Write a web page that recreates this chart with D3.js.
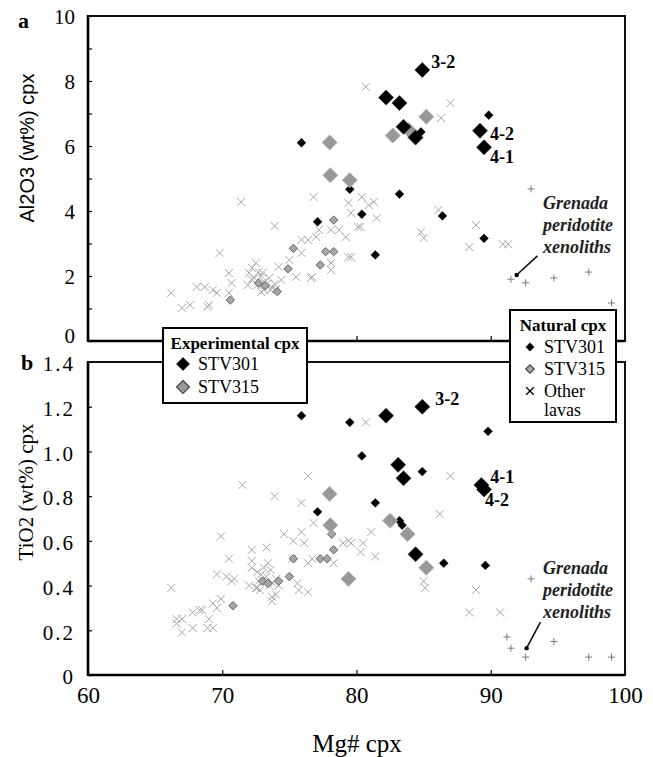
<!DOCTYPE html>
<html><head><meta charset="utf-8">
<script src="https://cdn.jsdelivr.net/npm/d3@7"></script>
<style>body{margin:0;background:#fff} svg{display:block}</style>
</head><body>
<svg id="chart" width="653" height="757"></svg>
<script>
// ---- tick values ----
const mgTicks = [60, 70, 80, 90, 100];
const al2o3Ticks = [0, 1, 2, 3, 4, 5, 6, 7, 8, 9, 10];
const tio2Ticks = [0, 0.2, 0.4, 0.6, 0.8, 1.0, 1.2, 1.4];

// ---- experimental cpx: [Mg#, oxide wt%, run label] ----
const expSTV301_Al = [[84.9,8.34,"3-2"],[82.2,7.49],[83.2,7.32],[83.5,6.59],[84.4,6.26],[89.2,6.47,"4-2"],[89.5,5.96,"4-1"]];
const expSTV315_Al = [[82.7,6.32],[83.9,6.49],[85.2,6.9],[78.0,6.11],[78.05,5.1],[79.5,4.95]];
const expSTV301_Ti = [[84.9,1.20,"3-2"],[82.2,1.16],[83.1,0.94],[83.5,0.88],[84.4,0.54],[89.3,0.85,"4-1"],[89.5,0.83,"4-2"]];
const expSTV315_Ti = [[82.5,0.69],[83.8,0.63],[85.2,0.48],[78.0,0.81],[78.05,0.67],[79.4,0.43]];

// ---- natural cpx ----
const natSTV301_Al = [[75.9,6.1],[89.85,6.95],[79.5,4.67],[83.2,4.52],[84.8,6.43],[77.1,3.67],[80.4,3.9],[86.4,3.85],[89.5,3.16],[81.4,2.65]];
const natSTV315_Al = [[78.3,3.72],[75.3,2.85],[77.7,2.75],[78.3,2.75],[74.9,2.22],[77.3,2.34],[70.6,1.26],[72.7,1.78],[73.2,1.7],[74.1,1.52]];
const natSTV301_Ti = [[75.9,1.16],[79.5,1.13],[80.4,0.98],[84.9,0.91],[89.8,1.09],[81.4,0.77],[77.1,0.73],[83.2,0.69],[83.4,0.67],[86.5,0.50],[89.6,0.49]];
const natSTV315_Ti = [[75.3,0.52],[77.3,0.52],[77.8,0.52],[78.3,0.56],[78.15,0.63],[75.0,0.44],[74.2,0.42],[70.8,0.31],[73.0,0.42],[73.4,0.41]];

// ---- other lavas ----
const otherLavas_Al = [[66.2,1.48],[67.0,1.02],[67.6,1.11],[68.1,1.66],[68.9,1.05],[69.3,1.57],[69.8,2.71],[70.7,1.78],[71.4,4.28],[72.2,2.25],[73.9,3.54],[76.8,4.43],[77.0,3.2],[76.6,1.94],
  [68.7,1.66],[69.0,1.11],[69.6,1.48],[70.5,2.09],[70.5,1.48],[72.0,2.09],[72.5,2.4],[73.1,1.82],[73.6,1.57],[74.2,2.28],[75.0,2.49],[75.5,1.97],[75.9,3.11],[76.4,3.11],[76.7,1.97],[77.2,3.42],[78.1,3.42],[78.7,3.42],[79.2,3.2],[79.4,4.25],[80.1,3.51],[78.1,2.18],[79.4,2.58],[75.9,2.71],[74.4,1.88],
  [80.7,7.82],[87.0,7.32],[86.3,6.86],[80.4,4.43],[81.3,4.28],[79.6,3.94],[80.9,4.18],[81.5,3.78],[80.3,3.51],[79.6,2.58],[78.1,2.4],[84.8,3.35],[85.0,3.17],[86.1,4.03],[88.9,3.57],[88.4,2.89],[90.9,2.98],[91.3,2.98],
  [72.4,1.94],[72.6,1.72],[72.9,2.0],[73.1,1.57],[73.3,1.75],[73.5,1.94],[72.7,2.12],[71.9,1.72],[73.9,1.75],[72.9,1.51],[72.2,1.9],[73.0,2.1],[73.7,1.65],[74.0,1.6]];
const otherLavas_Ti = [[66.2,0.39],[66.6,0.25],[67.0,0.19],[67.8,0.21],[68.3,0.29],[68.9,0.21],[69.3,0.32],[69.9,0.62],[70.3,0.44],[70.5,0.52],[70.7,0.42],[71.5,0.85],[72.2,0.51],[72.6,0.39],[73.3,0.57],[73.9,0.80],[73.7,0.35],[74.6,0.63],[75.2,0.52],[75.6,0.41],[75.9,0.77],[76.4,0.89],[76.4,0.37],[76.8,0.68],[76.1,0.59],
  [80.7,1.13],[87.0,0.89],[86.2,0.72],[79.0,0.59],[79.6,0.59],[80.5,0.59],[81.1,0.64],[81.4,0.53],[80.3,0.55],[78.3,0.50],[85.0,0.42],[85.1,0.39],[88.9,0.38],[88.4,0.28],[90.7,0.28],
  [69.6,0.45],[70.9,0.43],[72.2,0.56],[75.3,0.60],[75.9,0.64],[79.4,0.60],[75.7,0.38],[73.7,0.33],[72.7,0.42],[72.5,0.39],[72.0,0.40],[73.1,0.48],[72.2,0.48],[76.4,0.50],[76.7,0.52],[69.6,0.30],[69.9,0.34],[68.5,0.29],[67.8,0.28],[67.0,0.25],[66.6,0.23],[69.0,0.25],[69.3,0.21],
  [72.9,0.45],[73.1,0.42],[73.3,0.44],[73.5,0.40],[72.8,0.38],[73.6,0.47],[74.0,0.43],[74.2,0.40],[73.4,0.50],[72.6,0.46],[74.0,0.36],[73.8,0.41]];

// ---- Grenada peridotite xenoliths ----
const grenada_Al = [[93.0,4.68],[91.5,1.9],[92.6,1.79],[94.7,1.94],[97.3,2.12],[99.0,1.17]];
const grenada_Ti = [[93.0,0.43],[91.2,0.17],[91.5,0.12],[92.6,0.08],[94.7,0.15],[97.3,0.08],[99.0,0.08]];

// ---- layout ----
const svg = d3.select("#chart");
const serif = "'Liberation Serif','Times New Roman',serif";
const sans = "'Liberation Sans',Arial,sans-serif";
const x = d3.scaleLinear().domain([60, 100]).range([88, 625]);
const yA = d3.scaleLinear().domain([0, 10]).range([341, 16]);
const yB = d3.scaleLinear().domain([0, 1.4]).range([675, 362]);

const diamond = (r) => `M0,${-r}L${r},0L0,${r}L${-r},0Z`;
const times = (r) => `M${-r},${-r}L${r},${r}M${-r},${r}L${r},${-r}`;
const plus = (r) => `M${-r},0L${r},0M0,${-r}L0,${r}`;

const labelOffsets = {
  a: {"3-2": [9, -2], "4-2": [10, 9], "4-1": [6, 16]},
  b: {"3-2": [13, -2], "4-1": [9, -2], "4-2": [1, 17]}
};

function panel(key, y, sets, ticksY, fmtY, spacing, labelShift, arrow, noteAt) {
  const g = svg.append("g");
  const [x0, x1] = x.range();
  const [y0, y1] = y.range();

  // points
  const draw = (data, path, attrs) => {
    const sel = g.append("g").selectAll("path").data(data).join("path")
      .attr("transform", d => `translate(${x(d[0])},${y(d[1])})`)
      .attr("d", path);
    Object.entries(attrs).forEach(([k, v]) => sel.attr(k, v));
    return sel;
  };
  draw(sets.other, times(4), {fill: "none", stroke: "#a8a8a8", "stroke-width": 1});
  draw(sets.gren, plus(3.5), {fill: "none", stroke: "#7a7a7a", "stroke-width": 1});
  draw(sets.nat315, diamond(4.2), {fill: "#a6a6a6", stroke: "#666", "stroke-width": 1});
  draw(sets.nat301, diamond(4.4), {fill: "#000", stroke: "#000", "stroke-width": 0.5});
  draw(sets.exp315, diamond(7.5), {fill: "#989898", stroke: "#b3b3b3", "stroke-width": 1});
  draw(sets.exp301, diamond(7.5), {fill: "#000", stroke: "#222", "stroke-width": 0.6});

  // run labels
  g.append("g").selectAll("text").data(sets.exp301.filter(d => d[2])).join("text")
    .attr("x", d => x(d[0]) + labelOffsets[key][d[2]][0])
    .attr("y", d => y(d[1]) + labelOffsets[key][d[2]][1])
    .attr("font-family", serif).attr("font-weight", "bold").attr("font-size", 18)
    .text(d => d[2]);

  // xenolith note and pointer
  const note = g.append("text").attr("font-family", serif).attr("font-style", "italic")
    .attr("font-weight", "bold").attr("font-size", 18).attr("fill", "#222");
  ["Grenada", "peridotite", "xenoliths"].forEach((t, i) =>
    note.append("tspan").attr("x", x(noteAt[0])).attr("y", y(noteAt[1]) + i * 22).text(t));
  g.append("line")
    .attr("x1", x(arrow[0])).attr("y1", y(arrow[1]))
    .attr("x2", x(arrow[2])).attr("y2", y(arrow[3]))
    .attr("stroke", "#111").attr("stroke-width", 1.6);
  g.append("circle").attr("cx", x(arrow[2])).attr("cy", y(arrow[3])).attr("r", 2.2).attr("fill", "#000");

  // y axis
  const ay = g.append("g").attr("transform", `translate(${x0},0)`)
    .call(d3.axisLeft(y).tickValues(ticksY).tickFormat(fmtY).tickSizeInner(-4).tickSizeOuter(0).tickPadding(13));
  ay.select(".domain").remove();
  ay.selectAll("line").attr("stroke", "#000").attr("stroke-width", 1.2);
  ay.selectAll("text").attr("font-family", serif).attr("font-size", 21).attr("fill", "#000")
    .attr("letter-spacing", spacing)
    .attr("transform", d => `translate(0,${labelShift(d)})`);

  // x ticks (inward)
  const ax = g.append("g").attr("transform", `translate(0,${y0})`)
    .call(d3.axisBottom(x).tickValues(mgTicks).tickSizeInner(-5).tickSizeOuter(0).tickPadding(12)
      .tickFormat(key === "b" ? d3.format("d") : () => ""));
  ax.select(".domain").remove();
  ax.selectAll("line").attr("stroke", "#000").attr("stroke-width", 1.2);
  ax.selectAll("text").attr("font-family", serif).attr("font-size", 23).attr("fill", "#000");

  // frame
  g.append("rect").attr("x", x0).attr("y", y1).attr("width", x1 - x0).attr("height", y0 - y1)
    .attr("fill", "none").attr("stroke", "#111").attr("stroke-width", 2);
  g.append("line").attr("x1", x0).attr("x2", x0).attr("y1", y1 - 1).attr("y2", y0 + 1)
    .attr("stroke", "#000").attr("stroke-width", 2.6);
  g.append("line").attr("x1", x0).attr("x2", x1).attr("y1", y0).attr("y2", y0)
    .attr("stroke", "#000").attr("stroke-width", 2.4);

  return g;
}

panel("a", yA,
  {other: otherLavas_Al, gren: grenada_Al, nat315: natSTV315_Al, nat301: natSTV301_Al, exp315: expSTV315_Al, exp301: expSTV301_Al},
  al2o3Ticks, d => d % 2 === 0 ? String(d) : "", 0, d => d === 0 ? -5 : 1,
  [93.48, 2.62, 91.93, 2.03], [93.9, 4.06]);

panel("b", yB,
  {other: otherLavas_Ti, gren: grenada_Ti, nat315: natSTV315_Ti, nat301: natSTV301_Ti, exp315: expSTV315_Ti, exp301: expSTV301_Ti},
  tio2Ticks, d => d === 0 ? "0" : d3.format(".1f")(d), 2, d => 2,
  [93.7, 0.237, 92.67, 0.12], [93.9, 0.45]);

// panel letters
svg.append("text").attr("x", 18).attr("y", 28).attr("font-family", serif).attr("font-weight", "bold")
  .attr("font-size", 22).text("a");
svg.append("text").attr("x", 21).attr("y", 370).attr("font-family", serif).attr("font-weight", "bold")
  .attr("font-size", 22).text("b");

// axis titles
svg.append("text").attr("transform", "translate(34,148) rotate(-90)").attr("text-anchor", "middle")
  .attr("font-family", sans).attr("font-size", 20).text("Al2O3 (wt%) cpx");
svg.append("text").attr("transform", "translate(33,492) rotate(-90)").attr("text-anchor", "middle")
  .attr("font-family", serif).attr("font-size", 21).text("TiO2 (wt%) cpx");
svg.append("text").attr("x", 357).attr("y", 752).attr("text-anchor", "middle")
  .attr("font-family", serif).attr("font-size", 25).text("Mg# cpx");

// legends
function legend(box, title, items) {
  const g = svg.append("g");
  g.append("rect").attr("x", box[0]).attr("y", box[1]).attr("width", box[2]).attr("height", box[3])
    .attr("fill", "#fff").attr("stroke", "#000").attr("stroke-width", 2);
  g.append("text").attr("x", box[0] + box[2] / 2).attr("y", box[1] + 21).attr("text-anchor", "middle")
    .attr("font-family", serif).attr("font-weight", "bold").attr("font-size", 17).text(title);
  items.forEach(it => {
    g.append("path").attr("transform", `translate(${it.mx},${it.y})`).attr("d", it.path)
      .attr("fill", it.fill).attr("stroke", it.stroke).attr("stroke-width", it.sw);
    it.lines.forEach((t, i) => g.append("text").attr("x", it.tx).attr("y", it.y + 6 + i * 19)
      .attr("font-family", serif).attr("font-size", 18).text(t));
  });
}
legend([163, 328, 144, 75], "Experimental cpx", [
  {mx: 183, y: 364, path: diamond(6.5), fill: "#000", stroke: "#000", sw: 0.6, tx: 198, lines: ["STV301"]},
  {mx: 183, y: 387, path: diamond(6.5), fill: "#999", stroke: "#444", sw: 1.2, tx: 198, lines: ["STV315"]}
]);
legend([510, 310, 106, 112], "Natural cpx", [
  {mx: 530, y: 347, path: diamond(4.2), fill: "#000", stroke: "#000", sw: 0.5, tx: 544, lines: ["STV301"]},
  {mx: 530, y: 369, path: diamond(4.2), fill: "#aaa", stroke: "#444", sw: 1.2, tx: 544, lines: ["STV315"]},
  {mx: 530, y: 391, path: times(3.8), fill: "none", stroke: "#000", sw: 1.3, tx: 544, lines: ["Other", "lavas"]}
]);
</script>
</body></html>
